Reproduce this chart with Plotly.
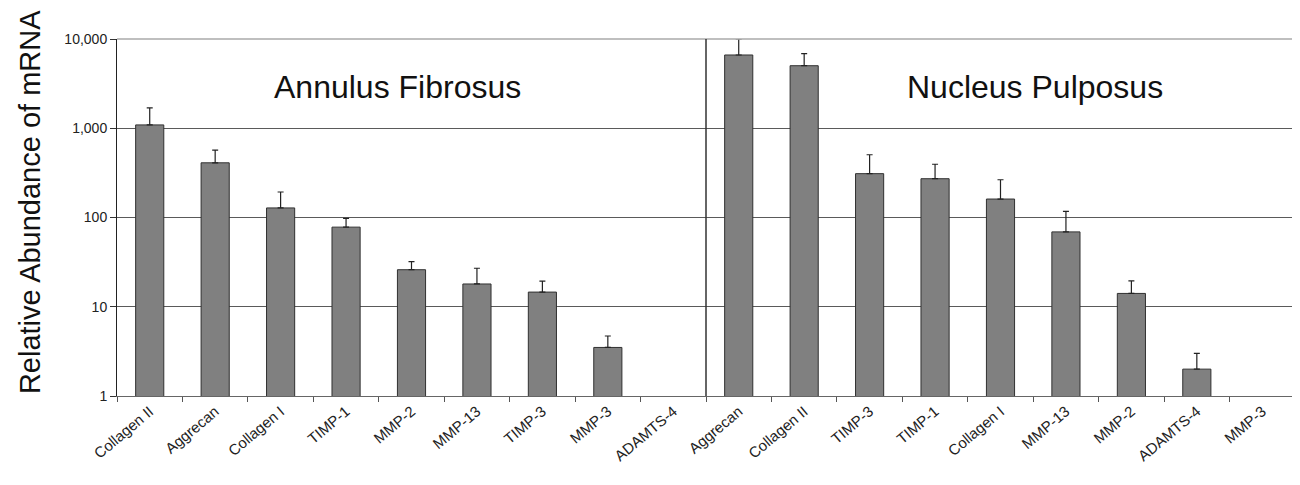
import plotly.graph_objects as go

# ---- data ----
af_genes = ["Collagen II", "Aggrecan", "Collagen I", "TIMP-1", "MMP-2", "MMP-13", "TIMP-3", "MMP-3", "ADAMTS-4"]
af_values = [1090, 410, 128, 78, 26, 18, 14.6, 3.5, None]
af_err = [600, 160, 65, 20, 6, 9, 4.8, 1.2, None]

np_genes = ["Aggrecan", "Collagen II", "TIMP-3", "TIMP-1", "Collagen I", "MMP-13", "MMP-2", "ADAMTS-4", "MMP-3"]
np_values = [6620, 5020, 310, 272, 161, 69, 14.1, 2.0, None]
np_err = [3380, 1820, 195, 123, 104, 48, 5.4, 1.0, None]

y_tickvals = [1, 10, 100, 1000, 10000]
y_ticktext = ["1", "10", "100", "1,000", "10,000"]

panel_titles = ["Annulus Fibrosus", "Nucleus Pulposus"]
y_title = "Relative Abundance of mRNA"

# ---- build ----
labels = af_genes + np_genes
values = af_values + np_values
errs = [e if e is not None else 0 for e in af_err + np_err]
xpos = list(range(len(labels)))
n_af = len(af_genes)

FONT = "Liberation Sans, Arial, sans-serif"

fig = go.Figure()
fig.add_trace(go.Bar(
    x=xpos, y=values,
    width=0.43,
    marker=dict(color="#808080", line=dict(color="#303030", width=1)),
    error_y=dict(type="data", symmetric=False, array=errs,
                 arrayminus=[0] * len(errs), color="#222222",
                 thickness=1.2, width=3),
    showlegend=False,
))
# invisible trace to drive boundary ticks
fig.add_trace(go.Scatter(x=[-0.5, len(labels) - 0.5], y=[1, 1], xaxis="x2",
                         mode="markers", marker=dict(opacity=0),
                         showlegend=False, hoverinfo="skip"))

fig.update_layout(
    width=1300, height=485,
    margin=dict(l=109, r=13, t=31, b=97),
    paper_bgcolor="white", plot_bgcolor="white",
    font=dict(family=FONT, color="#111111"),
    xaxis=dict(
        range=[-0.5, len(labels) - 0.5], automargin=False,
        tickmode="array", tickvals=xpos, ticktext=labels,
        tickangle=-40, tickfont=dict(size=15, color="#222222"),
        ticks="", ticklen=4, showgrid=False, zeroline=False,
        showline=True, linecolor="#666666", linewidth=1,
    ),
    xaxis2=dict(
        overlaying="x", anchor="y", side="bottom", automargin=False,
        range=[-0.5, len(labels) - 0.5],
        tickmode="array", tickvals=[i - 0.5 for i in range(len(labels) + 1)],
        showticklabels=False, ticks="outside", ticklen=5, tickcolor="#555555",
        showgrid=False, zeroline=False, showline=False,
    ),
    yaxis=dict(
        type="log", range=[0, 4], automargin=False,
        tickmode="array", tickvals=y_tickvals, ticktext=y_ticktext,
        tickfont=dict(size=14, color="#222222"),
        ticks="outside", ticklen=6, tickcolor="#333333",
        showgrid=True, gridcolor="#5a5a5a", gridwidth=1,
        zeroline=False, showline=True, linecolor="#222222", linewidth=1,
    ),
)

# border top/right (light gray) and panel divider
fig.add_shape(type="line", xref="paper", yref="paper", x0=0, x1=1, y0=1, y1=1,
              line=dict(color="#aaaaaa", width=1.5))
fig.add_shape(type="line", xref="paper", yref="paper", x0=1, x1=1, y0=0, y1=1,
              line=dict(color="#bbbbbb", width=1))
fig.add_shape(type="line", xref="x", yref="paper", x0=n_af - 0.5, x1=n_af - 0.5,
              y0=0, y1=1, line=dict(color="#333333", width=1.5))

fig.add_annotation(x=-0.0739, y=0.543, xref="paper", yref="paper",
                   text=y_title, textangle=-90, showarrow=False,
                   xanchor="center", yanchor="middle",
                   font=dict(size=29, color="#111111", family=FONT))
fig.add_annotation(x=(n_af - 1) / 2 - 0.21, y=0.866, xref="x", yref="paper",
                   text=panel_titles[0], showarrow=False,
                   xanchor="center", yanchor="middle",
                   font=dict(size=32, color="#111111", family=FONT))
fig.add_annotation(x=n_af + (len(np_genes) - 1) / 2 + 0.53, y=0.866, xref="x", yref="paper",
                   text=panel_titles[1], showarrow=False,
                   xanchor="center", yanchor="middle",
                   font=dict(size=32, color="#111111", family=FONT))

fig.write_html("out.html")
